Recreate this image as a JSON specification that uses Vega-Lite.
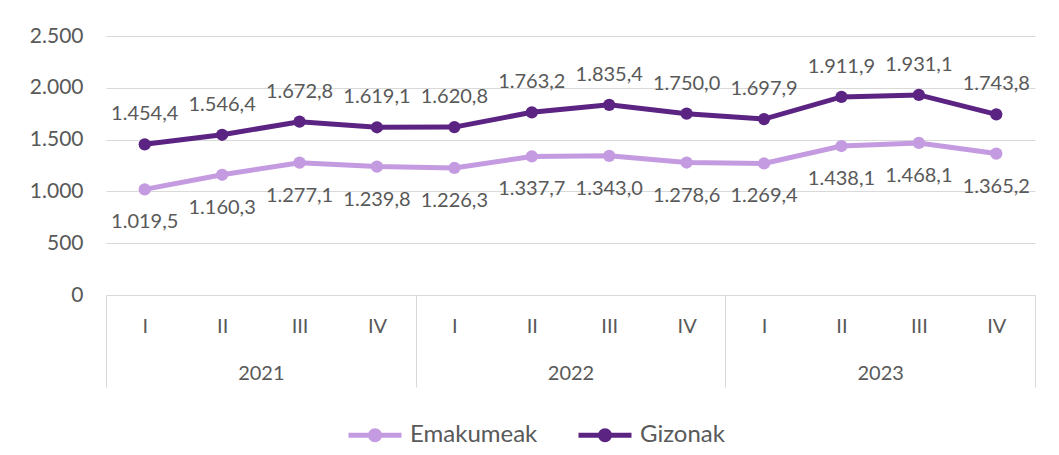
{
  "$schema": "https://vega.github.io/schema/vega-lite/v6.json",
  "width": 929,
  "height": 259,
  "autosize": {"type": "none"},
  "padding": {"left": 106, "top": 36, "right": 24, "bottom": 160},
  "background": "white",
  "config": {
    "locale": {"number": {"decimal": ",", "thousands": ".", "grouping": [3], "currency": ["", " €"]}},
    "font": "Lato",
    "view": {"stroke": null},
    "axis": {"labelFont": "Lato", "labelColor": "#595959", "gridColor": "#d9d9d9", "domainColor": "#d9d9d9", "tickColor": "#d9d9d9", "title": null}
  },
  "data": {"values": [
    {"year": "2021", "period": "2021 I", "sex": "Emakumeak", "value": 1019.5},
    {"year": "2021", "period": "2021 II", "sex": "Emakumeak", "value": 1160.3},
    {"year": "2021", "period": "2021 III", "sex": "Emakumeak", "value": 1277.1},
    {"year": "2021", "period": "2021 IV", "sex": "Emakumeak", "value": 1239.8},
    {"year": "2022", "period": "2022 I", "sex": "Emakumeak", "value": 1226.3},
    {"year": "2022", "period": "2022 II", "sex": "Emakumeak", "value": 1337.7},
    {"year": "2022", "period": "2022 III", "sex": "Emakumeak", "value": 1343.0},
    {"year": "2022", "period": "2022 IV", "sex": "Emakumeak", "value": 1278.6},
    {"year": "2023", "period": "2023 I", "sex": "Emakumeak", "value": 1269.4},
    {"year": "2023", "period": "2023 II", "sex": "Emakumeak", "value": 1438.1},
    {"year": "2023", "period": "2023 III", "sex": "Emakumeak", "value": 1468.1},
    {"year": "2023", "period": "2023 IV", "sex": "Emakumeak", "value": 1365.2},
    {"year": "2021", "period": "2021 I", "sex": "Gizonak", "value": 1454.4},
    {"year": "2021", "period": "2021 II", "sex": "Gizonak", "value": 1546.4},
    {"year": "2021", "period": "2021 III", "sex": "Gizonak", "value": 1672.8},
    {"year": "2021", "period": "2021 IV", "sex": "Gizonak", "value": 1619.1},
    {"year": "2022", "period": "2022 I", "sex": "Gizonak", "value": 1620.8},
    {"year": "2022", "period": "2022 II", "sex": "Gizonak", "value": 1763.2},
    {"year": "2022", "period": "2022 III", "sex": "Gizonak", "value": 1835.4},
    {"year": "2022", "period": "2022 IV", "sex": "Gizonak", "value": 1750.0},
    {"year": "2023", "period": "2023 I", "sex": "Gizonak", "value": 1697.9},
    {"year": "2023", "period": "2023 II", "sex": "Gizonak", "value": 1911.9},
    {"year": "2023", "period": "2023 III", "sex": "Gizonak", "value": 1931.1},
    {"year": "2023", "period": "2023 IV", "sex": "Gizonak", "value": 1743.8}
  ]},
  "encoding": {
    "y": {
      "field": "value", "type": "quantitative",
      "scale": {"domain": [0, 2500], "nice": false},
      "axis": {"values": [0, 500, 1000, 1500, 2000, 2500], "format": ",.0f", "domain": false, "ticks": false, "labelPadding": 23, "labelFontSize": 21, "grid": true}
    }
  },
  "layer": [
    {
      "encoding": {
        "x": {"field": "period", "type": "ordinal", "scale": {"type": "point", "padding": 0.5},
          "axis": {"labelExpr": "split(datum.label, ' ')[1]", "labelAngle": 0, "ticks": false, "tickSize": 0, "domain": true, "grid": false, "labelPadding": 21, "labelFontSize": 20, "orient": "bottom"}}
      },
      "layer": [
        {
          "mark": {"type": "line", "strokeWidth": 5},
          "encoding": {
            "color": {"field": "sex", "type": "nominal",
              "scale": {"domain": ["Emakumeak", "Gizonak"], "range": ["#c49be0", "#5b2483"]},
              "legend": {"title": null, "orient": "none", "legendX": 240, "legendY": 370, "direction": "horizontal", "padding": 0,
                "symbolType": "M-1,0L1,0M0.17,0A0.17,0.17,0,1,1,-0.17,0A0.17,0.17,0,1,1,0.17,0",
                "symbolSize": 2809, "symbolStrokeWidth": 5, "labelFontSize": 24, "labelColor": "#595959", "labelFont": "Lato", "labelOffset": 6, "columnPadding": 30}}
          }
        },
        {
          "mark": {"type": "point", "filled": true, "size": 150, "opacity": 1},
          "encoding": {
            "color": {"field": "sex", "type": "nominal"}
          }
        },
        {
          "transform": [{"filter": "datum.sex === 'Gizonak'"}],
          "mark": {"type": "text", "dy": -30, "fontSize": 20, "color": "#595959", "baseline": "middle"},
          "encoding": {
            "text": {"field": "value", "type": "quantitative", "format": ",.1f"}
          }
        },
        {
          "transform": [{"filter": "datum.sex === 'Emakumeak'"}],
          "mark": {"type": "text", "dy": 33, "fontSize": 20, "color": "#595959", "baseline": "middle"},
          "encoding": {
            "text": {"field": "value", "type": "quantitative", "format": ",.1f"}
          }
        }
      ]
    },
    {
      "mark": {"type": "point", "opacity": 0},
      "encoding": {
        "x": {"field": "year", "type": "nominal", "scale": {"type": "band", "paddingInner": 0, "paddingOuter": 0},
          "axis": {"orient": "bottom", "labelAngle": 0, "domain": false, "ticks": true, "tickBand": "extent", "tickSize": 92, "labelPadding": -24, "labelFontSize": 20, "grid": false}}
      }
    }
  ],
  "resolve": {"scale": {"x": "independent"}, "axis": {"x": "independent"}}
}
